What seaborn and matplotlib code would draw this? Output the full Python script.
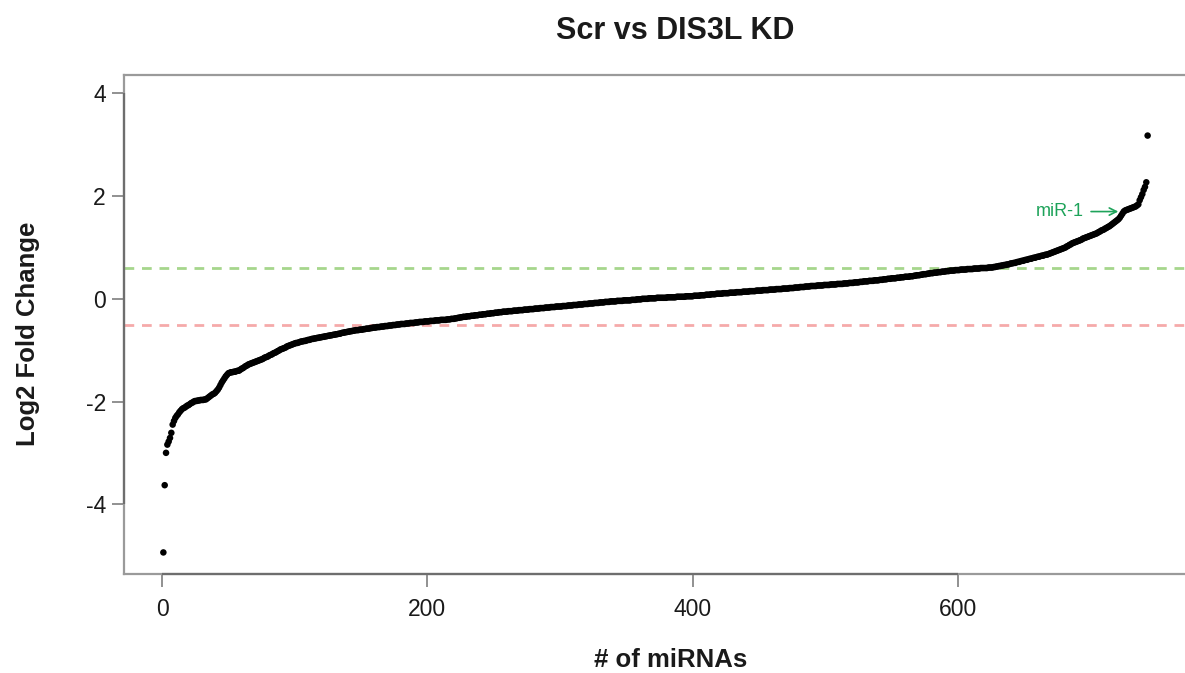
import matplotlib
matplotlib.use("Agg")
import matplotlib.pyplot as plt
import seaborn as sns
import pandas as pd
import numpy as np

title = "Scr vs DIS3L KD"
x_label = "# of miRNAs"
y_label = "Log2 Fold Change"
up_threshold = 0.6
down_threshold = -0.5
x_ticks = [0, 200, 400, 600]
y_ticks = [-4, -2, 0, 2, 4]
highlight_label = "miR-1"
highlight_rank = 725

# sorted log2 fold change values, rank 1..743
log2fc = [
    -4.94, -3.63, -3.00, -2.84, -2.78, -2.71, -2.61, -2.45, -2.38, -2.32,
    -2.28, -2.25, -2.21, -2.18, -2.15, -2.13, -2.12, -2.10, -2.08, -2.07,
    -2.05, -2.03, -2.02, -2.00, -1.99, -1.99, -1.98, -1.98, -1.97, -1.97,
    -1.97, -1.96, -1.96, -1.94, -1.92, -1.90, -1.88, -1.86, -1.85, -1.83,
    -1.80, -1.77, -1.73, -1.68, -1.63, -1.59, -1.55, -1.51, -1.48, -1.45,
    -1.44, -1.43, -1.43, -1.42, -1.42, -1.41, -1.40, -1.40, -1.38, -1.36,
    -1.35, -1.33, -1.31, -1.30, -1.28, -1.27, -1.26, -1.25, -1.24, -1.23,
    -1.22, -1.21, -1.20, -1.19, -1.18, -1.17, -1.15, -1.14, -1.13, -1.12,
    -1.10, -1.09, -1.08, -1.06, -1.05, -1.04, -1.02, -1.01, -0.99, -0.98,
    -0.97, -0.96, -0.95, -0.93, -0.92, -0.91, -0.90, -0.89, -0.88, -0.87,
    -0.86, -0.86, -0.85, -0.84, -0.83, -0.83, -0.82, -0.82, -0.81, -0.80,
    -0.80, -0.79, -0.78, -0.78, -0.77, -0.77, -0.76, -0.76, -0.75, -0.75,
    -0.74, -0.74, -0.73, -0.73, -0.72, -0.72, -0.71, -0.71, -0.70, -0.70,
    -0.69, -0.69, -0.68, -0.68, -0.67, -0.66, -0.66, -0.65, -0.65, -0.64,
    -0.64, -0.63, -0.63, -0.62, -0.62, -0.61, -0.61, -0.61, -0.60, -0.60,
    -0.60, -0.59, -0.59, -0.58, -0.58, -0.58, -0.57, -0.57, -0.56, -0.56,
    -0.56, -0.55, -0.55, -0.55, -0.54, -0.54, -0.54, -0.53, -0.53, -0.53,
    -0.52, -0.52, -0.52, -0.51, -0.51, -0.51, -0.50, -0.50, -0.50, -0.49,
    -0.49, -0.49, -0.49, -0.48, -0.48, -0.48, -0.47, -0.47, -0.47, -0.47,
    -0.46, -0.46, -0.46, -0.45, -0.45, -0.45, -0.45, -0.44, -0.44, -0.44,
    -0.44, -0.43, -0.43, -0.43, -0.43, -0.42, -0.42, -0.42, -0.42, -0.41,
    -0.41, -0.41, -0.41, -0.41, -0.40, -0.40, -0.40, -0.39, -0.39, -0.39,
    -0.38, -0.38, -0.37, -0.37, -0.36, -0.36, -0.35, -0.35, -0.35, -0.34,
    -0.34, -0.34, -0.33, -0.33, -0.33, -0.32, -0.32, -0.32, -0.31, -0.31,
    -0.31, -0.30, -0.30, -0.30, -0.29, -0.29, -0.29, -0.28, -0.28, -0.28,
    -0.27, -0.27, -0.27, -0.26, -0.26, -0.26, -0.25, -0.25, -0.25, -0.25,
    -0.24, -0.24, -0.24, -0.24, -0.23, -0.23, -0.23, -0.23, -0.22, -0.22,
    -0.22, -0.22, -0.21, -0.21, -0.21, -0.21, -0.20, -0.20, -0.20, -0.20,
    -0.19, -0.19, -0.19, -0.19, -0.18, -0.18, -0.18, -0.18, -0.17, -0.17,
    -0.17, -0.17, -0.16, -0.16, -0.16, -0.16, -0.15, -0.15, -0.15, -0.15,
    -0.15, -0.14, -0.14, -0.14, -0.14, -0.13, -0.13, -0.13, -0.13, -0.12,
    -0.12, -0.12, -0.12, -0.11, -0.11, -0.11, -0.11, -0.10, -0.10, -0.10,
    -0.10, -0.09, -0.09, -0.09, -0.09, -0.08, -0.08, -0.08, -0.08, -0.07,
    -0.07, -0.07, -0.07, -0.06, -0.06, -0.06, -0.06, -0.05, -0.05, -0.05,
    -0.05, -0.05, -0.04, -0.04, -0.04, -0.04, -0.04, -0.03, -0.03, -0.03,
    -0.03, -0.03, -0.03, -0.02, -0.02, -0.02, -0.02, -0.01, -0.01, -0.01,
    -0.01, 0.00, 0.00, 0.00, 0.00, 0.00, 0.01, 0.01, 0.01, 0.01,
    0.01, 0.01, 0.02, 0.02, 0.02, 0.02, 0.02, 0.02, 0.02, 0.02,
    0.03, 0.03, 0.03, 0.03, 0.03, 0.03, 0.03, 0.04, 0.04, 0.04,
    0.04, 0.04, 0.04, 0.04, 0.05, 0.05, 0.05, 0.05, 0.05, 0.05,
    0.06, 0.06, 0.06, 0.06, 0.06, 0.07, 0.07, 0.07, 0.07, 0.08,
    0.08, 0.08, 0.08, 0.09, 0.09, 0.09, 0.09, 0.10, 0.10, 0.10,
    0.10, 0.10, 0.11, 0.11, 0.11, 0.11, 0.11, 0.12, 0.12, 0.12,
    0.12, 0.12, 0.13, 0.13, 0.13, 0.13, 0.13, 0.14, 0.14, 0.14,
    0.14, 0.14, 0.15, 0.15, 0.15, 0.15, 0.15, 0.16, 0.16, 0.16,
    0.16, 0.16, 0.17, 0.17, 0.17, 0.17, 0.17, 0.18, 0.18, 0.18,
    0.18, 0.18, 0.19, 0.19, 0.19, 0.19, 0.19, 0.20, 0.20, 0.20,
    0.20, 0.20, 0.21, 0.21, 0.21, 0.21, 0.22, 0.22, 0.22, 0.22,
    0.23, 0.23, 0.23, 0.23, 0.24, 0.24, 0.24, 0.24, 0.25, 0.25,
    0.25, 0.25, 0.25, 0.26, 0.26, 0.26, 0.26, 0.26, 0.27, 0.27,
    0.27, 0.27, 0.27, 0.28, 0.28, 0.28, 0.28, 0.28, 0.29, 0.29,
    0.29, 0.29, 0.29, 0.30, 0.30, 0.30, 0.30, 0.31, 0.31, 0.31,
    0.31, 0.32, 0.32, 0.32, 0.32, 0.33, 0.33, 0.33, 0.34, 0.34,
    0.34, 0.34, 0.35, 0.35, 0.35, 0.35, 0.36, 0.36, 0.36, 0.36,
    0.37, 0.37, 0.37, 0.38, 0.38, 0.38, 0.39, 0.39, 0.39, 0.40,
    0.40, 0.40, 0.40, 0.41, 0.41, 0.41, 0.42, 0.42, 0.42, 0.43,
    0.43, 0.43, 0.43, 0.44, 0.44, 0.44, 0.45, 0.45, 0.46, 0.46,
    0.46, 0.47, 0.47, 0.48, 0.48, 0.48, 0.49, 0.49, 0.50, 0.50,
    0.50, 0.51, 0.51, 0.51, 0.52, 0.52, 0.52, 0.53, 0.53, 0.53,
    0.54, 0.54, 0.54, 0.55, 0.55, 0.55, 0.55, 0.56, 0.56, 0.56,
    0.56, 0.57, 0.57, 0.57, 0.57, 0.57, 0.58, 0.58, 0.58, 0.58,
    0.58, 0.59, 0.59, 0.59, 0.59, 0.59, 0.60, 0.60, 0.60, 0.60,
    0.60, 0.60, 0.61, 0.61, 0.61, 0.61, 0.62, 0.62, 0.63, 0.63,
    0.64, 0.64, 0.65, 0.65, 0.66, 0.66, 0.67, 0.67, 0.68, 0.69,
    0.69, 0.70, 0.70, 0.71, 0.72, 0.72, 0.73, 0.74, 0.74, 0.75,
    0.76, 0.76, 0.77, 0.78, 0.78, 0.79, 0.80, 0.80, 0.81, 0.82,
    0.82, 0.83, 0.84, 0.84, 0.85, 0.86, 0.86, 0.87, 0.88, 0.89,
    0.90, 0.91, 0.92, 0.93, 0.94, 0.95, 0.96, 0.97, 0.98, 0.99,
    1.00, 1.02, 1.03, 1.05, 1.06, 1.08, 1.09, 1.10, 1.11, 1.12,
    1.13, 1.14, 1.15, 1.17, 1.18, 1.19, 1.20, 1.21, 1.22, 1.23,
    1.24, 1.25, 1.26, 1.27, 1.28, 1.30, 1.31, 1.33, 1.34, 1.35,
    1.37, 1.38, 1.40, 1.41, 1.43, 1.45, 1.47, 1.49, 1.51, 1.53,
    1.55, 1.58, 1.62, 1.66, 1.70, 1.72, 1.73, 1.74, 1.75, 1.76,
    1.77, 1.78, 1.79, 1.80, 1.82, 1.84, 1.92, 1.98, 2.04, 2.12,
    2.18, 2.27, 3.18,
]
rank = list(range(1, len(log2fc) + 1))

df = pd.DataFrame({"rank": rank, "log2fc": log2fc})

sns.set_theme(style="white")
plt.rcParams["font.family"] = ["Liberation Sans", "DejaVu Sans"]

W, H = 1185, 673
fig = plt.figure(figsize=(W / 100, H / 100), dpi=100)
ax = fig.add_axes([124 / W, 1 - 574 / H, (1187 - 124) / W, (574 - 75) / H])

n = len(log2fc)
xlim = (1 - 0.04 * (n - 1), n + 0.04 * (n - 1))
ylim = (-5.36, 4.36)

ax.axhline(up_threshold, color="#a6d68c", lw=2.0, ls=(0, (3.5, 2.8)), zorder=1)
ax.axhline(down_threshold, color="#f5aaaa", lw=2.0, ls=(0, (3.5, 2.8)), zorder=1)

sns.scatterplot(data=df, x="rank", y="log2fc", ax=ax, color="black",
                s=22, linewidth=0, edgecolor="none", zorder=3, legend=False)

ax.set_xlim(*xlim)
ax.set_ylim(*ylim)
ax.set_xticks(x_ticks)
ax.set_yticks(y_ticks)
ax.set_xticklabels([str(t) for t in x_ticks])
ax.set_yticklabels([str(t) for t in y_ticks])
ax.tick_params(axis="both", which="both", direction="out", length=9, width=1.3,
               color="#888888", labelsize=16.5, labelcolor="#1a1a1a", pad=4,
               bottom=True, left=True)
ax.tick_params(axis="x", pad=8)
ax.set_xlabel("")
ax.set_ylabel("")

for side in ["left", "top", "bottom"]:
    ax.spines[side].set_visible(True)
    ax.spines[side].set_color("#9a9a9a")
    ax.spines[side].set_linewidth(1.6)
ax.spines["right"].set_visible(False)

# darker axis segments (R-style axis lines spanning the ticks)
ax.hlines(ylim[0], x_ticks[0], x_ticks[-1], color="#6e6e6e", lw=1.6, clip_on=False, zorder=4)
ax.vlines(xlim[0], y_ticks[0], y_ticks[-1], color="#6e6e6e", lw=1.6, clip_on=False, zorder=4)

# highlight annotation
hi_y = log2fc[highlight_rank - 1]
ax.annotate(highlight_label, xy=(highlight_rank - 2, hi_y), xycoords="data",
            xytext=(-27, 0), textcoords="offset points", ha="right", va="center",
            fontsize=13, color="#1ea35a",
            arrowprops=dict(arrowstyle="->", color="#1ea35a", lw=1.2,
                            shrinkA=3, shrinkB=2))

fig.text(675 / W, 1 - 31 / H, title, ha="center", va="center",
         fontsize=22, fontweight="bold", color="#1a1a1a")
fig.text(671 / W, 1 - 660 / H, x_label, ha="center", va="center",
         fontsize=18.5, fontweight="bold", color="#1a1a1a")
fig.text(28 / W, 1 - 334 / H, y_label, ha="center", va="center", rotation=90,
         fontsize=18.5, fontweight="bold", color="#1a1a1a")

fig.savefig("out.png", dpi=100, facecolor="white")
